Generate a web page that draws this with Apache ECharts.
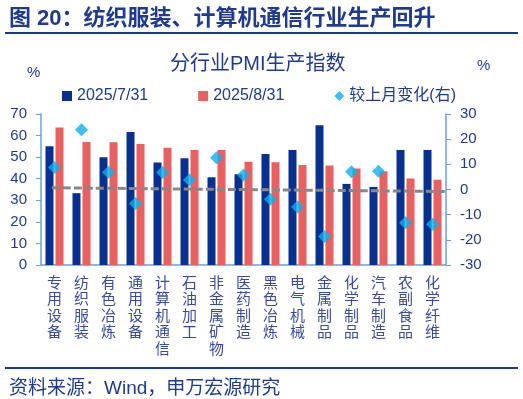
<!DOCTYPE html>
<html style="height: 100%">
   <head>
       <meta charset="utf-8">
   </head>
   <body style="height: 100%; margin: 0">
       <div id="container" style="height: 100%"></div>
       <script type="text/javascript" src="https://cdn.jsdelivr.net/npm/echarts@6/dist/echarts.min.js"></script>
       <script type="text/javascript">
var categories = ['专用设备','纺织服装','有色冶炼','通用设备','计算机通信','石油加工','非金属矿物','医药制造','黑色冶炼','电气机械','金属制品','化学制品','汽车制造','农副食品','化学纤维'];
var julyValues = [55.0, 33.3, 50.0, 61.7, 47.5, 49.5, 40.7, 42.1, 51.5, 53.3, 64.8, 37.6, 36.2, 53.3, 53.3];
var augValues = [63.7, 57.0, 56.9, 56.1, 54.3, 53.3, 53.3, 47.9, 47.6, 46.3, 46.1, 44.7, 43.5, 40.1, 39.5];
var changeValues = [8.7, 23.7, 6.9, -5.6, 6.8, 3.8, 12.6, 5.8, -3.9, -7.0, -18.7, 7.1, 7.3, -13.2, -13.8];
// 趋势线两端（右轴）
var trendX = [0.4, 15];
var trendY = [0.7, -0.8];
var leftTicks = [0, 70, 10];
var rightTicks = [-30, 30, 10];

var seriesNames = ['2025/7/31', '2025/8/31', '较上月变化(右)'];
var navy = '#1f3a8f';
var axisBlue = '#6f9fd8';
var font = 'Liberation Sans, Noto Sans CJK SC';

var dom = document.getElementById("container");
var myChart = echarts.init(dom);

var trendData = [];
for (var i = 0; i < trendX.length; i++) {
    trendData.push([trendX[i], trendY[i]]);
}

option = {
    animation: false,
    textStyle: {fontFamily: font},
    title: [
        {text: '图 20：纺织服装、计算机通信行业生产回升', left: 4, top: 3,
         textStyle: {color: navy, fontSize: 22, fontWeight: 'bold', fontFamily: font}},
        {text: '分行业PMI生产指数', left: 165, top: 49,
         textStyle: {color: navy, fontSize: 20, fontWeight: 'normal', fontFamily: font}},
        {text: '%', left: 22, top: 60,
         textStyle: {color: navy, fontSize: 15, fontWeight: 'normal', fontFamily: font}},
        {text: '%', left: 472, top: 53,
         textStyle: {color: navy, fontSize: 15, fontWeight: 'normal', fontFamily: font}},
        {text: '资料来源：Wind，申万宏源研究', left: 4, top: 374,
         textStyle: {color: navy, fontSize: 19, fontWeight: 'normal', fontFamily: font}}
    ],
    graphic: [
        {type: 'rect', shape: {x: 5, y: 32, width: 513, height: 2}, style: {fill: '#1a3a90'}},
        {type: 'rect', shape: {x: 5, y: 367, width: 513, height: 2}, style: {fill: '#1a3a90'}}
    ],
    legend: {
        top: 83,
        left: 57,
        itemGap: 50,
        itemWidth: 10,
        itemHeight: 10,
        textStyle: {color: navy, fontSize: 16, fontFamily: font},
        data: [
            {name: seriesNames[0], icon: 'rect'},
            {name: seriesNames[1], icon: 'rect'},
            {name: seriesNames[2], icon: 'diamond'}
        ]
    },
    grid: {left: 41, right: 77, top: 114, bottom: 134},
    xAxis: [
        {
            type: 'category',
            data: categories,
            axisLine: {lineStyle: {color: axisBlue, width: 1.5}},
            axisTick: {length: 5, lineStyle: {color: axisBlue}},
            axisLabel: {
                interval: 0,
                margin: 9,
                color: '#3a4b9c',
                fontSize: 15,
                lineHeight: 16.5,
                fontFamily: 'Noto Sans CJK SC',
                formatter: function (v) { return v.split('').join('\n'); }
            }
        },
        {
            type: 'value', min: 0, max: 15, show: false
        }
    ],
    yAxis: [
        {
            type: 'value',
            min: leftTicks[0], max: leftTicks[1], interval: leftTicks[2],
            splitLine: {show: false},
            axisLine: {show: true, lineStyle: {color: axisBlue, width: 1.5}},
            axisTick: {show: true, length: 5, lineStyle: {color: axisBlue}},
            axisLabel: {color: navy, fontSize: 15, margin: 14, fontFamily: font}
        },
        {
            type: 'value',
            min: rightTicks[0], max: rightTicks[1], interval: rightTicks[2],
            splitLine: {show: false},
            axisLine: {show: true, lineStyle: {color: axisBlue, width: 1.5}},
            axisTick: {show: true, length: 5, lineStyle: {color: axisBlue}},
            axisLabel: {color: navy, fontSize: 15, margin: 14, fontFamily: font}
        }
    ],
    series: [
        {
            name: seriesNames[0],
            type: 'bar',
            barWidth: 8,
            barGap: '25%',
            data: julyValues,
            itemStyle: {color: '#08318f'}
        },
        {
            name: seriesNames[1],
            type: 'bar',
            barWidth: 8,
            data: augValues,
            itemStyle: {color: '#e8605f'}
        },
        {
            name: 'trend',
            type: 'line',
            xAxisIndex: 1,
            yAxisIndex: 1,
            data: trendData,
            symbol: 'none',
            z: 3,
            lineStyle: {color: '#888888', width: 3, type: [8, 3]}
        },
        {
            name: seriesNames[2],
            type: 'scatter',
            yAxisIndex: 1,
            symbol: 'diamond',
            symbolSize: 13,
            z: 4,
            data: changeValues,
            itemStyle: {color: '#0db0ee'}
        }
    ]
};

if (option && typeof option === "object") {
    myChart.setOption(option, true);
}
       </script>
   </body>
</html>
